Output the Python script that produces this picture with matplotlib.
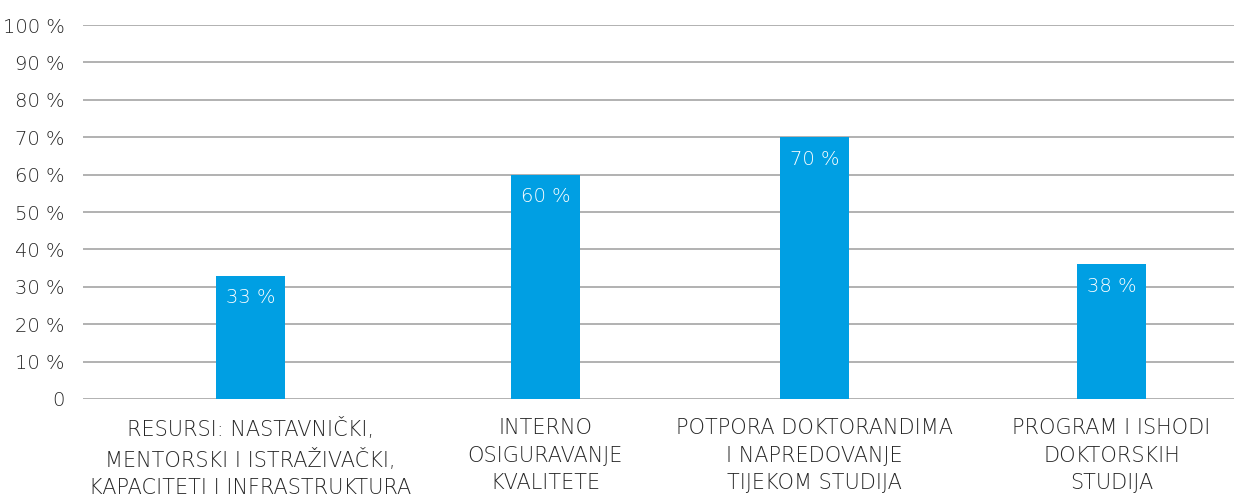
import matplotlib.pyplot as plt
from matplotlib.ticker import FuncFormatter

categories = ['RESURSI: NASTAVNIČKI,\nMENTORSKI I ISTRAŽIVAČKI,\nKAPACITETI I INFRASTRUKTURA',
              'INTERNO\nOSIGURAVANJE\nKVALITETE',
              'POTPORA DOKTORANDIMA\nI NAPREDOVANJE\nTIJEKOM STUDIJA',
              'PROGRAM I ISHODI\nDOKTORSKIH\nSTUDIJA']
values = [33, 60, 70, 36]
value_labels = ['33 %', '60 %', '70 %', '38 %']
yticks = [0, 10, 20, 30, 40, 50, 60, 70, 80, 90, 100]

# layout only
positions = [0.582, 1.607, 2.542, 3.574]
bar_color = '#009FE3'
text_color = '#262626'
font = 'DejaVu Sans'


def main():
    fig = plt.figure(figsize=(12.34, 4.98), dpi=100)
    ax = fig.add_axes([83 / 1234, 1 - 399 / 498, 1151 / 1234, 374 / 498])

    bars = ax.bar(positions, values, width=0.24, color=bar_color, zorder=3)
    for b, lab in zip(bars, value_labels):
        ax.annotate(lab, (b.get_x() + b.get_width() / 2, b.get_height()),
                    xytext=(0, -16), textcoords='offset points',
                    ha='center', va='center', color='white',
                    fontsize=14, family=font, fontweight='light', zorder=4)

    ax.set_xlim(0, 4)
    ax.set_ylim(0, 100)
    ax.set_yticks(yticks)
    ax.yaxis.set_major_formatter(FuncFormatter(lambda v, p: '0' if v == 0 else '%d %%' % v))
    ax.grid(axis='y', color='#ABABAB', linewidth=1.3, zorder=0)
    for s in ax.spines.values():
        s.set_visible(False)

    ax.set_xticks(positions)
    ax.set_xticklabels(categories, linespacing=1.45)
    ax.tick_params(axis='both', length=0, colors=text_color)
    ax.tick_params(axis='y', pad=13, labelsize=14)
    ax.tick_params(axis='x', pad=14, labelsize=15)
    for t in ax.get_xticklabels() + ax.get_yticklabels():
        t.set_family(font)
        t.set_fontweight('light')
        t.set_color(text_color)

    fig.savefig('out.png', dpi=100)


if __name__ == '__main__':
    main()
